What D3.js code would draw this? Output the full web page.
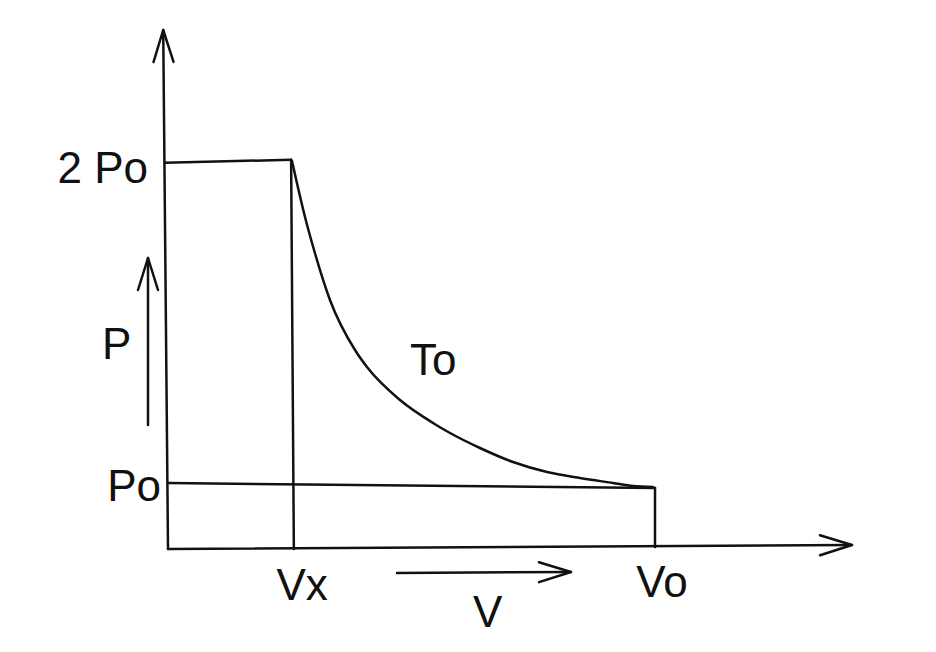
<!DOCTYPE html>
<html>
<head>
<meta charset="utf-8">
<script src="https://cdn.jsdelivr.net/npm/d3@7"></script>
<style>
  html, body { margin: 0; padding: 0; background: #fff; }
  svg text { font-family: "Liberation Sans", Arial, sans-serif; font-size: 44px; fill: #111; }
</style>
</head>
<body>
<svg id="svg" width="936" height="652"></svg>
<script>
// 数据：示意图的坐标单位（0~10），非按比例
var vLabels = ['Vx', 'Vo'];
var vValues = [1.80, 7.12];
var pLabels = ['2 Po', 'Po'];
var pValues = [7.47, 1.22];

// 等温线 To 上读出的点
var curveV = [1.813, 2.003, 2.135, 2.368, 2.734, 2.909, 3.392, 3.874, 4.123, 4.561, 5.044, 5.541, 6.023, 6.506, 6.798, 7.091];
var curveP = [7.476, 6.397, 5.761, 4.798, 3.834, 3.507, 2.871, 2.428, 2.235, 1.946, 1.676, 1.484, 1.368, 1.272, 1.214, 1.195];

// 手绘的直线段（起点、终点）
var segments = [
  [[-0.04, 7.44], [1.80, 7.50]],   // 2Po 水平线
  [[1.80, 7.50], [1.84, 0]],       // Vx 竖线
  [[0, 1.27], [7.12, 1.175]],      // Po 水平线
  [[7.12, 1.175], [7.12, 0.04]]    // Vo 竖线
];

var svg = d3.select('#svg');

var x = d3.scaleLinear().domain([0, 10]).range([168, 852]);
var y = d3.scaleLinear().domain([0, 10]).range([549, 30]);

var g = svg.append('g')
  .attr('fill', 'none')
  .attr('stroke', '#111')
  .attr('stroke-width', 2.5)
  .attr('stroke-linecap', 'round')
  .attr('stroke-linejoin', 'round');

var line = d3.line().x(function(d) { return x(d[0]); }).y(function(d) { return y(d[1]); });

// 箭头（开口 V 形）
function arrow(x1, y1, x2, y2) {
  g.append('line').attr('x1', x1).attr('y1', y1).attr('x2', x2).attr('y2', y2);
  var a = Math.atan2(y2 - y1, x2 - x1);
  var back = 32, side = 10;
  var pts = [
    [x2 - back * Math.cos(a) + side * Math.sin(a), y2 - back * Math.sin(a) - side * Math.cos(a)],
    [x2, y2],
    [x2 - back * Math.cos(a) - side * Math.sin(a), y2 - back * Math.sin(a) + side * Math.cos(a)]
  ];
  g.append('path').attr('d', d3.line()(pts));
}

// 坐标轴
arrow(x(0), y(0), x(-0.07), y(10));
arrow(x(0), y(0), x(10), y(0.077));

// 直线段
g.selectAll('path.seg').data(segments).enter().append('path')
  .attr('class', 'seg')
  .attr('d', line);

// 等温曲线
var curvePts = curveV.map(function(v, i) { return [v, curveP[i]]; });
g.append('path')
  .attr('d', d3.line()
    .x(function(d) { return x(d[0]); })
    .y(function(d) { return y(d[1]); })
    .curve(d3.curveMonotoneX)(curvePts));

// P、V 方向箭头
arrow(148, 425, 148, 258);
arrow(397, 573, 571, 572);

// 文字
svg.append('text').attr('x', x(0) - 20).attr('y', y(pValues[0]) + 22).attr('text-anchor', 'end').text(pLabels[0]);
svg.append('text').attr('x', x(0) - 7).attr('y', y(pValues[1]) + 15).attr('text-anchor', 'end').text(pLabels[1]);
svg.append('text').attr('x', x(vValues[0]) + 11).attr('y', y(0) + 51).attr('text-anchor', 'middle').text(vLabels[0]);
svg.append('text').attr('x', x(vValues[1]) + 7).attr('y', y(0) + 48).attr('text-anchor', 'middle').text(vLabels[1]);
svg.append('text').attr('x', 102).attr('y', 359).text('P');
svg.append('text').attr('x', 473).attr('y', 627).text('V');
svg.append('text').attr('x', 410).attr('y', 375).text('To');
</script>
</body>
</html>
